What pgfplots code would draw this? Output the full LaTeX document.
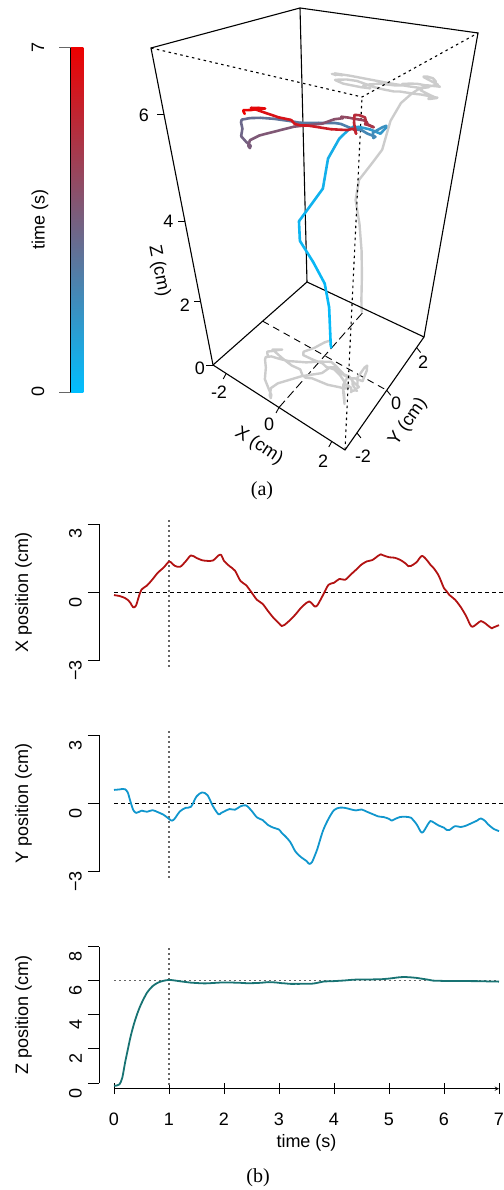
\documentclass[border=0pt]{standalone}
\usepackage{pgfplots}
\pgfplotsset{compat=1.18}
\usepackage{pgfplotstable}
\usepackage{fontspec}
\setmainfont{Liberation Sans}
\newfontfamily\seriffont{Liberation Serif}

\definecolor{xcol}{RGB}{178,18,18}
\definecolor{ycol}{RGB}{16,150,205}
\definecolor{zcol}{RGB}{24,115,115}
\definecolor{projgray}{RGB}{204,204,204}
\definecolor{cbot}{RGB}{0,191,255}
\definecolor{ctop}{RGB}{238,0,0}

\pgfplotsset{/pgf/number format/assume math mode=true}

\pgfplotstableread{
t x y z
0.00 -0.12 0.59 -0.16
0.05 -0.14 0.60 -0.15
0.10 -0.16 0.61 -0.08
0.15 -0.20 0.63 0.30
0.20 -0.25 0.62 1.17
0.25 -0.33 0.48 1.95
0.30 -0.47 0.07 2.70
0.35 -0.66 -0.29 3.32
0.40 -0.58 -0.42 3.85
0.45 -0.20 -0.38 4.30
0.50 0.12 -0.32 4.68
0.60 0.30 -0.37 5.30
0.70 0.57 -0.30 5.68
0.80 0.87 -0.39 5.89
0.90 1.08 -0.50 6.00
1.00 1.35 -0.68 6.05
1.05 1.28 -0.76 6.04
1.10 1.17 -0.68 6.02
1.20 1.12 -0.35 5.97
1.30 1.35 -0.20 5.93
1.40 1.62 -0.15 5.89
1.50 1.51 0.30 5.87
1.60 1.41 0.48 5.85
1.70 1.38 0.36 5.85
1.80 1.40 -0.13 5.87
1.90 1.62 -0.48 5.89
1.95 1.64 -0.42 5.90
2.00 1.38 -0.36 5.90
2.10 1.15 -0.25 5.90
2.20 0.95 -0.28 5.89
2.30 0.50 -0.13 5.88
2.40 0.32 -0.09 5.86
2.50 0.00 -0.32 5.86
2.60 -0.33 -0.62 5.87
2.70 -0.50 -0.73 5.89
2.80 -0.82 -0.95 5.92
2.90 -1.12 -1.07 5.91
3.00 -1.36 -1.15 5.88
3.05 -1.48 -1.30 5.86
3.10 -1.43 -1.41 5.85
3.20 -1.22 -1.68 5.82
3.30 -0.97 -2.12 5.82
3.40 -0.68 -2.36 5.82
3.50 -0.46 -2.53 5.83
3.55 -0.40 -2.66 5.83
3.60 -0.49 -2.58 5.83
3.65 -0.62 -2.30 5.85
3.70 -0.56 -1.98 5.88
3.80 -0.12 -1.20 5.95
3.90 0.33 -0.68 5.97
4.00 0.42 -0.30 5.98
4.10 0.59 -0.19 6.00
4.20 0.55 -0.20 6.02
4.30 0.77 -0.26 6.05
4.40 0.99 -0.31 6.07
4.50 1.22 -0.27 6.07
4.60 1.36 -0.37 6.08
4.70 1.42 -0.47 6.08
4.80 1.60 -0.57 6.09
4.85 1.67 -0.59 6.09
4.90 1.62 -0.60 6.10
5.00 1.54 -0.68 6.13
5.05 1.53 -0.76 6.15
5.10 1.52 -0.70 6.17
5.20 1.43 -0.60 6.21
5.30 1.27 -0.59 6.22
5.35 1.15 -0.60 6.21
5.40 1.16 -0.63 6.20
5.50 1.32 -0.91 6.17
5.60 1.60 -1.29 6.12
5.70 1.38 -0.95 6.07
5.75 1.22 -0.78 6.04
5.80 1.10 -0.82 6.01
5.90 0.75 -0.97 6.00
6.00 0.18 -1.07 5.99
6.05 0.04 -1.17 5.99
6.10 -0.12 -1.17 5.99
6.20 -0.32 -1.00 5.99
6.30 -0.63 -1.04 5.99
6.40 -1.03 -0.98 5.99
6.50 -1.50 -0.87 5.98
6.60 -1.38 -0.76 5.98
6.67 -1.26 -0.66 5.97
6.75 -1.36 -0.78 5.97
6.80 -1.46 -0.92 5.96
6.87 -1.58 -1.06 5.96
6.90 -1.54 -1.12 5.96
7.00 -1.44 -1.22 5.95
}\traj

\pgfplotsset{
  table/proj/.style={x expr={PX(\thisrow{x},\thisrow{y},\thisrow{z})}, y expr={PY(\thisrow{x},\thisrow{y},\thisrow{z})}},
  table/projfloor/.style={x expr={PX(\thisrow{x},\thisrow{y},0)}, y expr={PY(\thisrow{x},\thisrow{y},0)}},
  table/projwall/.style={x expr={PX(\thisrow{x},2.5,\thisrow{z})}, y expr={PY(\thisrow{x},2.5,\thisrow{z})}},
  rpanel/.style={scale only axis, width=385pt, xmin=0, xmax=7, clip=false,
    axis y line=left, axis y line shift=15pt, axis line style={-, line width=0.9pt},
    tick align=outside, major tick length=11pt, tick style={line width=0.9pt, black},
    yticklabel style={rotate=90, anchor=south, xshift=-10pt},
    every axis y label/.style={at={(axis description cs:-0.235,0.5)}, anchor=center, rotate=90}},
  dotl/.style={black!60, line width=1.1pt, dash pattern=on 2pt off 3pt},
  dashl/.style={black, line width=0.9pt, dash pattern=on 4pt off 3pt},
}

\begin{document}
\fontsize{18pt}{21pt}\selectfont
\begin{tikzpicture}[declare function={
  fu(\x)=(\x+2.5)/5;
  fv(\y)=(\y+2.8)/5.3;
  fs(\z)=0.621*(\z/7)/(1-0.379*(\z/7));
  PX(\x,\y,\z)=(1-fu(\x))*(1-fv(\y))*(213-62*fs(\z))+fu(\x)*(1-fv(\y))*(345+17*fs(\z))+fu(\x)*fv(\y)*(424+54*fs(\z))+(1-fu(\x))*fv(\y)*(307-7*fs(\z));
  PY(\x,\y,\z)=1190-((1-fu(\x))*(1-fv(\y))*(365-317*fs(\z))+fu(\x)*(1-fv(\y))*(450-353*fs(\z))+fu(\x)*fv(\y)*(337-304*fs(\z))+(1-fu(\x))*fv(\y)*(282-274*fs(\z)));
}]
\useasboundingbox (0,0) rectangle (503pt,1190pt);

% ---------- (a) 3D trajectory ----------
\begin{axis}[at={(0pt,0pt)}, anchor=south west, scale only axis, width=503pt, height=1190pt,
  xmin=0, xmax=503, ymin=0, ymax=1190, hide axis, clip=false,
  colormap={tc}{rgb255=(0,191,255) rgb255=(238,0,0)}, point meta min=0, point meta max=7]
% floor guide lines
\addplot[black, line width=0.9pt, dash pattern=on 7pt off 5pt] table[row sep=\\, proj] {x y z\\ -2.5 0 0\\ 2.5 0 0\\};
\addplot[black, line width=0.9pt, dash pattern=on 9pt off 4pt] table[row sep=\\, proj] {x y z\\ 0 -2.8 0\\ 0 2.5 0\\};
% gray projections
\addplot[projgray, line width=2.4pt, line join=round] table[projfloor] \traj;
\addplot[projgray, line width=2.4pt, line join=round] table[projwall] \traj;
% box
\addplot[black, line width=1.1pt] table[row sep=\\, proj] {x y z\\ -2.5 -2.8 0\\ 2.5 -2.8 0\\ 2.5 2.5 0\\ -2.5 2.5 0\\ -2.5 -2.8 0\\};
\addplot[black, line width=1.1pt] table[row sep=\\, proj] {x y z\\ -2.5 -2.8 0\\ -2.5 -2.8 7\\ -2.5 2.5 7\\ 2.5 2.5 7\\ 2.5 2.5 0\\};
\addplot[black, line width=1.1pt] table[row sep=\\, proj] {x y z\\ -2.5 2.5 0\\ -2.5 2.5 7\\};
\addplot[black, line width=1.1pt, dash pattern=on 2.5pt off 3.5pt] table[row sep=\\, proj] {x y z\\ -2.5 -2.8 7\\ 2.5 -2.8 7\\ 2.5 2.5 7\\};
\addplot[black, line width=1.1pt, dash pattern=on 2.5pt off 3.5pt] table[row sep=\\, proj] {x y z\\ 2.5 -2.8 0\\ 2.5 -2.8 7\\};
% trajectory coloured by time
\addplot[mesh, point meta=explicit, line width=2.6pt, line join=round, line cap=round] table[proj, meta=t] \traj;

% ticks and labels of the 3D box
\draw[line width=0.9pt] (axis cs:213,825) -- ++(-7pt,0pt);
\draw[line width=0.9pt] (axis cs:200.7,888.1) -- ++(-7pt,0pt);
\draw[line width=0.9pt] (axis cs:184.9,968.6) -- ++(-7pt,0pt);
\draw[line width=0.9pt] (axis cs:164.1,1075.1) -- ++(-7pt,0pt);
\node at (axis cs:200,822) {0};
\node at (axis cs:185,885) {2};
\node at (axis cs:168.5,968.3) {4};
\node at (axis cs:144,1075) {6};
\draw[line width=0.9pt] (axis cs:226.2,816.5) -- ++(-3pt,-5.5pt);
\draw[line width=0.9pt] (axis cs:279,782.5) -- ++(-3pt,-5.5pt);
\draw[line width=0.9pt] (axis cs:331.8,748.5) -- ++(-3pt,-5.5pt);
\node at (axis cs:219,797.5) {-2};
\node at (axis cs:269,766) {0};
\node at (axis cs:323,728.3) {2};
\draw[line width=0.9pt] (axis cs:356.9,757.1) -- ++(4pt,-5pt);
\draw[line width=0.9pt] (axis cs:386.7,799.7) -- ++(4pt,-5pt);
\draw[line width=0.9pt] (axis cs:416.6,842.4) -- ++(4pt,-5pt);
\node at (axis cs:363,734) {-2};
\node at (axis cs:396,787) {0};
\node at (axis cs:423,828) {2};
\node[rotate=-33, inner sep=0pt] at (axis cs:259,744) {X (cm)};
\node[rotate=55, inner sep=0pt] at (axis cs:408,768) {Y (cm)};
\node[rotate=-79, inner sep=0pt] at (axis cs:159,919) {Z (cm)};

% colour bar
\fill[bottom color=cbot, top color=ctop] (axis cs:70.7,797.3) rectangle (axis cs:83.3,1142.7);
\draw[black, line width=0.9pt] (axis cs:70.7,797.3) -- (axis cs:70.7,1142.7);
\draw[black!60, line width=0.9pt] (axis cs:70.7,797.3) -- (axis cs:59.3,797.3);
\draw[black!60, line width=0.9pt] (axis cs:70.7,1142.7) -- (axis cs:59.3,1142.7);
\node[rotate=90] at (axis cs:38,798.3) {0};
\node[rotate=90] at (axis cs:38,1142) {7};
\node[rotate=90] at (axis cs:40,970) {time (s)};

\node[font=\seriffont\fontsize{20pt}{22pt}\selectfont] at (axis cs:262,699.3) {(a)};
\node[font=\seriffont\fontsize{20pt}{22pt}\selectfont] at (axis cs:258,12) {(b)};
\end{axis}

% ---------- (b) X position ----------
\begin{axis}[rpanel, at={(114pt,529.3pt)}, anchor=south west, height=136.7pt,
  ymin=-3, ymax=3, axis x line=none, ytick={-3,0,3}, yticklabels={−3,0,3},
  ylabel={X position (cm)}]
\addplot[dashl] coordinates {(0,0) (7.1,0)};
\addplot[dotl] coordinates {(1,-3.26) (1,3.26)};
\addplot[xcol, line width=1.8pt, smooth, line join=round] table[x=t, y=x] \traj;
\end{axis}

% ---------- (b) Y position ----------
\begin{axis}[rpanel, at={(114pt,318.3pt)}, anchor=south west, height=136.7pt,
  ymin=-3, ymax=3, axis x line=none, ytick={-3,0,3}, yticklabels={−3,0,3},
  ylabel={Y position (cm)}]
\addplot[dashl] coordinates {(0,0) (7.1,0)};
\addplot[dotl] coordinates {(1,-3.26) (1,3.26)};
\addplot[ycol, line width=1.8pt, smooth, line join=round] table[x=t, y=y] \traj;
\end{axis}

% ---------- (b) Z position ----------
\begin{axis}[rpanel, at={(114pt,107pt)}, anchor=south west, height=136.3pt,
  ymin=0, ymax=8, ytick={0,2,4,6,8},
  axis x line=bottom, axis x line shift=5.7pt, xtick={0,1,...,7},
  xticklabel style={yshift=-13pt},
  xlabel={time (s)},
  every axis x label/.style={at={(axis description cs:0.5,-0.438)}, anchor=center},
  ylabel={Z position (cm)}]
\addplot[dotl] coordinates {(0,6) (7,6)};
\addplot[dotl] coordinates {(1,-0.1) (1,8)};
\addplot[zcol, line width=1.8pt, smooth, line join=round] table[x=t, y=z] \traj;
\end{axis}
\end{tikzpicture}
\end{document}
